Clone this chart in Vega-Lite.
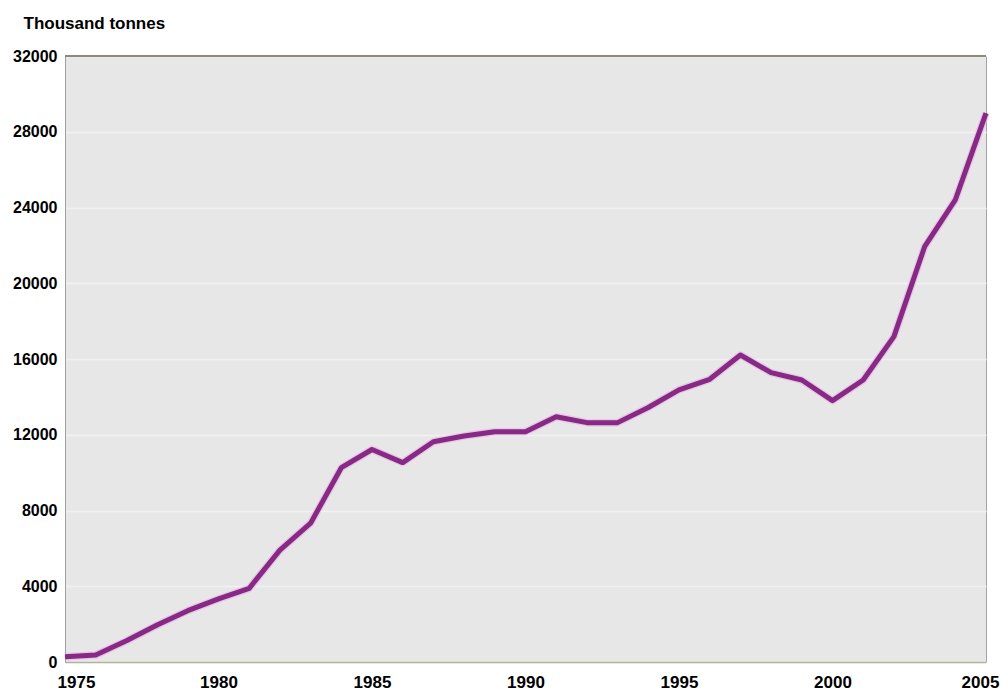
{
  "$schema": "https://vega.github.io/schema/vega-lite/v6.json",
  "width": 921,
  "height": 606,
  "autosize": {"type": "none"},
  "padding": {"left": 65, "top": 56, "right": 14, "bottom": 29},
  "background": "#ffffff",
  "config": {
    "view": {"fill": "#e7e7e7", "stroke": "#a3a3a3", "strokeWidth": 1},
    "font": "Liberation Sans"
  },
  "data": {
    "values": [
      {"year": 1975, "value": 280},
      {"year": 1976, "value": 370},
      {"year": 1977, "value": 1120},
      {"year": 1978, "value": 1950},
      {"year": 1979, "value": 2710},
      {"year": 1980, "value": 3330},
      {"year": 1981, "value": 3890},
      {"year": 1982, "value": 5910},
      {"year": 1983, "value": 7330},
      {"year": 1984, "value": 10260},
      {"year": 1985, "value": 11220},
      {"year": 1986, "value": 10530},
      {"year": 1987, "value": 11630},
      {"year": 1988, "value": 11930},
      {"year": 1989, "value": 12160},
      {"year": 1990, "value": 12160},
      {"year": 1991, "value": 12950},
      {"year": 1992, "value": 12640},
      {"year": 1993, "value": 12640},
      {"year": 1994, "value": 13440},
      {"year": 1995, "value": 14370},
      {"year": 1996, "value": 14930},
      {"year": 1997, "value": 16210},
      {"year": 1998, "value": 15280},
      {"year": 1999, "value": 14890},
      {"year": 2000, "value": 13800},
      {"year": 2001, "value": 14890},
      {"year": 2002, "value": 17180},
      {"year": 2003, "value": 21930},
      {"year": 2004, "value": 24400},
      {"year": 2005, "value": 28980}
    ]
  },
  "encoding": {
    "x": {
      "field": "year",
      "type": "quantitative",
      "scale": {"domain": [1975, 2005], "nice": false, "zero": false},
      "axis": {
        "title": null,
        "values": [1975, 1980, 1985, 1990, 1995, 2000, 2005],
        "format": "d",
        "grid": false,
        "ticks": false,
        "tickSize": 0,
        "domainColor": "#b4b3a0",
        "domainWidth": 1.5,
        "labelFont": "Liberation Sans",
        "labelFontSize": 17,
        "labelFontWeight": "bold",
        "labelColor": "#000000",
        "labelPadding": 12,
        "labelBaseline": "top",
        "labelFlush": false,
        "labelOverlap": false,
        "labelOffset": {
          "condition": [
            {"test": "datum.value == 1975", "value": 11},
            {"test": "datum.value == 2005", "value": -6}
          ],
          "value": 0
        }
      }
    },
    "y": {
      "field": "value",
      "type": "quantitative",
      "scale": {"domain": [0, 32000], "nice": false},
      "axis": {
        "title": "Thousand tonnes",
        "titleAngle": 0,
        "titleAlign": "left",
        "titleBaseline": "alphabetic",
        "titleX": -42,
        "titleY": -28,
        "titleFont": "Liberation Sans",
        "titleFontSize": 17,
        "titleFontWeight": "bold",
        "titleColor": "#000000",
        "values": [0, 4000, 8000, 12000, 16000, 20000, 24000, 28000, 32000],
        "format": "d",
        "grid": true,
        "gridColor": "#f1f1f1",
        "gridWidth": 1.5,
        "ticks": false,
        "tickSize": 0,
        "domainColor": "#a0a0a0",
        "domainWidth": 1,
        "labelFont": "Liberation Sans",
        "labelFontSize": 16,
        "labelFontWeight": "bold",
        "labelColor": "#000000",
        "labelPadding": 8,
        "labelAlign": "right",
        "labelBaseline": "middle"
      }
    }
  },
  "layer": [
    {
      "mark": {"type": "rule", "color": "#8e8a78", "strokeWidth": 2},
      "encoding": {"y": {"datum": 32000}, "x": {"datum": 1975}, "x2": {"datum": 2005}}
    },
    {
      "mark": {"type": "line", "color": "#eab4ea", "strokeWidth": 7.5, "opacity": 0.7, "strokeJoin": "round"}
    },
    {
      "mark": {"type": "line", "color": "#862a84", "strokeWidth": 5, "strokeJoin": "round"}
    }
  ]
}
